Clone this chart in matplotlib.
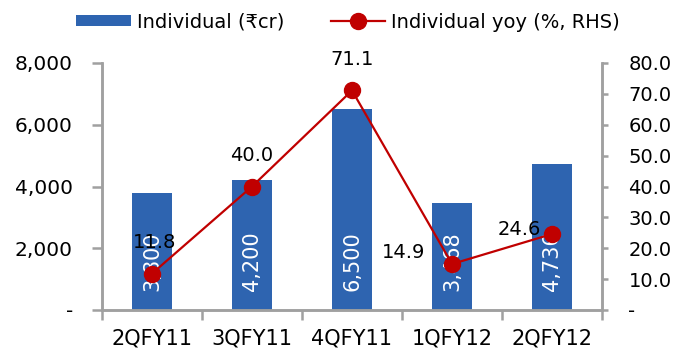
import matplotlib
matplotlib.use("Agg")
import matplotlib.pyplot as plt
import numpy as np

categories = ["2QFY11", "3QFY11", "4QFY11", "1QFY12", "2QFY12"]
individual = [3800, 4200, 6500, 3468, 4736]
yoy = [11.8, 40.0, 71.1, 14.9, 24.6]
bar_labels = ["3,800", "4,200", "6,500", "3,468", "4,736"]
left_ticks = [0, 2000, 4000, 6000, 8000]
left_ticklabels = ["-", "2,000", "4,000", "6,000", "8,000"]
right_ticks = [0, 10, 20, 30, 40, 50, 60, 70, 80]
right_ticklabels = ["-", "10.0", "20.0", "30.0", "40.0", "50.0", "60.0", "70.0", "80.0"]

plt.rcParams['font.family'] = ['DejaVu Sans']
fig = plt.figure(figsize=(6.77, 3.55), dpi=100)
ax = fig.add_axes([102/677, 1-310/355, (602-102)/677, (310-63)/355])
ax2 = ax.twinx()

blue = "#2e64b0"
red = "#c00000"
grey = "#a0a0a0"
px = 0.72  # points per pixel

x = np.arange(len(categories))
bars = ax.bar(x, individual, width=0.4, color=blue, zorder=2)
ax.set_xlim(-0.5, len(categories) - 0.5)
ax.set_ylim(0, 8000)
ax.set_yticks(left_ticks)
ax.set_yticklabels(left_ticklabels)
ax.set_xticks(x)
ax.set_xticklabels(categories)
ax.set_xticks(np.arange(-0.5, len(categories)), minor=True)
ax.tick_params(axis='x', which='major', length=0, pad=13, labelsize=15)
ax.tick_params(axis='x', which='minor', length=7, color=grey, width=1.8)
ax.tick_params(axis='y', length=7, color=grey, width=1.8, labelsize=14.5, pad=14)

for xi, lab in zip(x, bar_labels):
    ax.annotate(lab, (xi, 0), xytext=(0, 19 * px), textcoords='offset points',
                rotation=90, ha='center', va='bottom',
                color='white', fontsize=15, zorder=5)

line, = ax2.plot(x, yoy, color=red, lw=1.6, marker='o', markersize=11.5,
                 zorder=4)
ax2.set_ylim(0, 80)
ax2.set_yticks(right_ticks)
ax2.set_yticklabels(right_ticklabels)
ax2.tick_params(axis='y', length=4, color=grey, width=1.8, labelsize=14, pad=15)

offsets = [(3, 31), (0, 31), (0, 31), (-48, 11), (-33, 5)]
for xi, v, off in zip(x, yoy, offsets):
    ax2.annotate(f"{v:.1f}", (xi, v), xytext=(off[0] * px, off[1] * px),
                 textcoords='offset points',
                 ha='center', va='center', fontsize=14, zorder=6)

for a in (ax, ax2):
    a.spines['top'].set_visible(False)
    for s in ('left', 'right', 'bottom'):
        a.spines[s].set_color(grey)
        a.spines[s].set_linewidth(1.8)

ax.set_zorder(ax2.get_zorder() - 1)
ax.patch.set_visible(False)

fig.legend([bars, line], ["Individual (₹cr)", "Individual yoy (%, RHS)"],
           loc='center', bbox_to_anchor=(348/677, 1 - 22/355), ncol=2, frameon=False,
           fontsize=14, handlelength=2.8, handleheight=0.55, columnspacing=2.4,
           handletextpad=0.3, borderpad=0, borderaxespad=0)

fig.savefig("out.png", dpi=100)
